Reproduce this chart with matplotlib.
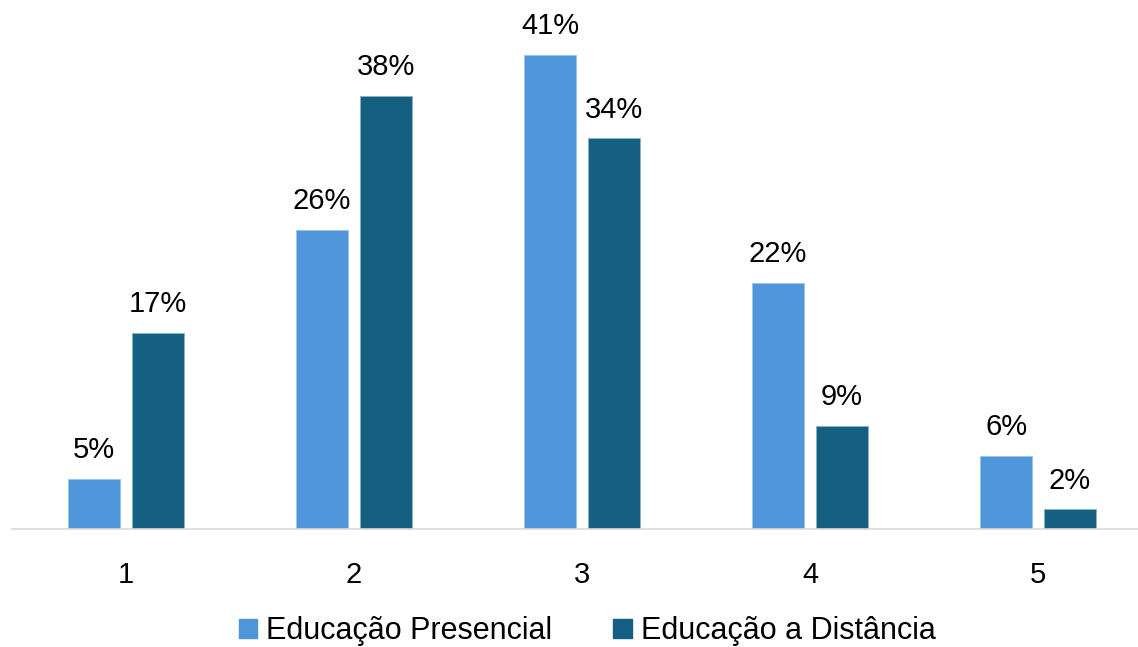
import numpy as np
import matplotlib.pyplot as plt
from matplotlib.patches import Patch

categories = ["1", "2", "3", "4", "5"]
presencial = [4.3, 25.9, 41.0, 21.3, 6.3]
distancia = [17.0, 37.5, 33.8, 8.9, 1.7]
labels_presencial = ["5%", "26%", "41%", "22%", "6%"]
labels_distancia = ["17%", "38%", "34%", "9%", "2%"]

c_light = "#4E95D9"
c_dark = "#156082"

plt.rcParams['font.family'] = ['Liberation Sans', 'DejaVu Sans']

fig = plt.figure(figsize=(11.38, 6.47), dpi=100)
ax = fig.add_axes([12 / 1138, 118 / 647, 1140 / 1138, 520 / 647])

x = np.arange(1, len(categories) + 1)
w = 0.228
off = 0.14
b1 = ax.bar(x - off, presencial, w, color=c_light, edgecolor="#9cc3e8", linewidth=0.6)
b2 = ax.bar(x + off, distancia, w, color=c_dark, edgecolor="#8fb3c6", linewidth=0.6)

for bars, labs in [(b1, labels_presencial), (b2, labels_distancia)]:
    for r, t in zip(bars, labs):
        ax.annotate(t, (r.get_x() + r.get_width() / 2, r.get_height()),
                    xytext=(0, 15), textcoords="offset points",
                    ha="center", va="baseline", fontsize=21, color="#000000")

ax.set_xlim(0.5, 5.5)
ax.set_ylim(0, 45)
ax.set_xticks(x)
ax.set_xticklabels(categories, fontsize=21)
ax.tick_params(axis="x", length=0, pad=23)
ax.set_yticks([])
for s in ["top", "right", "left"]:
    ax.spines[s].set_visible(False)
ax.spines["bottom"].set_color("#d9d9d9")
ax.spines["bottom"].set_linewidth(1.2)

handles = [Patch(color=c_light), Patch(color=c_dark)]
fig.legend(handles, ["Educação Presencial", "Educação a Distância"],
           loc="center", bbox_to_anchor=(0.516, 0.024), ncol=2,
           frameon=False, handlelength=0.6, handleheight=0.6,
           handletextpad=0.3, columnspacing=2.0,
           prop={'family': ['Liberation Sans', 'DejaVu Sans'], 'size': 22})

fig.savefig("out.png", dpi=100)
